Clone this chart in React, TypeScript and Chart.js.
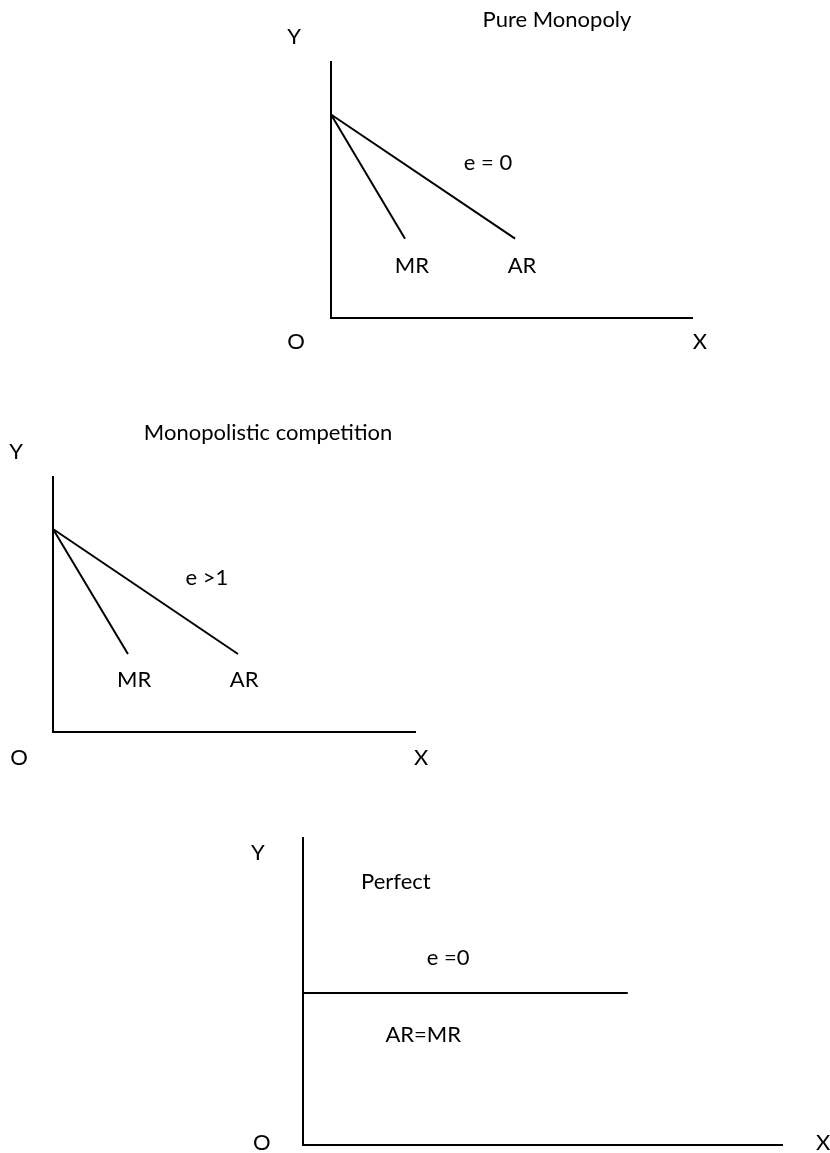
import React, { useEffect, useRef } from 'react';
import { Chart, registerables } from 'chart.js';

Chart.register(...registerables);

// ---------- Pure Monopoly ----------
const pureMR = [
  { x: 0, y: 79.5 },
  { x: 20.5, y: 31 },
];
const pureAR = [
  { x: 0, y: 79.5 },
  { x: 51, y: 31 },
];
const pureLabels = [
  { text: 'Pure Monopoly', x: 62.6, y: 116.4 },
  { text: 'Y', x: -10.2, y: 109.8 },
  { text: 'O', x: -9.7, y: -9.2 },
  { text: 'X', x: 102.2, y: -9.4 },
  { text: 'e = 0', x: 43.5, y: 60.5 },
  { text: 'MR', x: 22.4, y: 20.3 },
  { text: 'AR', x: 52.9, y: 20.3 },
];

// ---------- Monopolistic competition ----------
const compMR = [
  { x: 0, y: 79.6 },
  { x: 20.7, y: 30.6 },
];
const compAR = [
  { x: 0, y: 79.6 },
  { x: 51.1, y: 30.6 },
];
const compLabels = [
  { text: 'Monopolistic competition', x: 59.4, y: 117.3 },
  { text: 'Y', x: -10.2, y: 109.8 },
  { text: 'O', x: -9.4, y: -10.2 },
  { text: 'X', x: 101.7, y: -10.2 },
  { text: 'e >1', x: 42.5, y: 60.4 },
  { text: 'MR', x: 22.4, y: 20.4 },
  { text: 'AR', x: 52.8, y: 20.4 },
];

// ---------- Perfect competition ----------
const perfectARMR = [
  { x: 0, y: 49.5 },
  { x: 67.8, y: 49.5 },
];
const perfectLabels = [
  { text: 'Y', x: -9.4, y: 95.1 },
  { text: 'Perfect', x: 19.4, y: 85.7 },
  { text: 'e =0', x: 30.3, y: 60.9 },
  { text: 'AR=MR', x: 25.1, y: 35.8 },
  { text: 'O', x: -8.6, y: 0.65 },
  { text: 'X', x: 108.6, y: 0.65 },
];

type Pt = { x: number; y: number };
type Lbl = { text: string; x: number; y: number };

const FONT = '22px Lato';

function makeLabelPlugin(items: Lbl[]) {
  return {
    id: 'textLabels',
    afterDatasetsDraw(chart: any) {
      const { ctx, scales } = chart;
      const xs = scales.x;
      const ys = scales.y;
      ctx.save();
      ctx.font = FONT;
      ctx.fillStyle = '#000';
      ctx.textAlign = 'center';
      ctx.textBaseline = 'middle';
      items.forEach((it) => {
        ctx.fillText(it.text, xs.getPixelForValue(it.x), ys.getPixelForValue(it.y));
      });
      ctx.restore();
    },
  };
}

function axisOpts() {
  return {
    type: 'linear' as const,
    min: 0,
    max: 100,
    grid: { display: false, drawTicks: false },
    ticks: { display: false },
    border: { display: true, color: '#000', width: 2 },
  };
}

function lineDs(data: Pt[]) {
  return {
    data,
    showLine: true,
    borderColor: '#000',
    borderWidth: 2,
    pointRadius: 0,
    pointHoverRadius: 0,
    fill: false,
    clip: false as any,
  };
}

type PanelProps = {
  top: number;
  height: number;
  padding: { left: number; top: number; right: number; bottom: number };
  series: Pt[][];
  labels: Lbl[];
};

function Panel({ top, height, padding, series, labels }: PanelProps) {
  const ref = useRef<HTMLCanvasElement | null>(null);
  useEffect(() => {
    if (!ref.current) return;
    const chart = new Chart(ref.current, {
      type: 'scatter',
      data: { datasets: series.map((s) => lineDs(s)) as any },
      options: {
        responsive: false,
        animation: false,
        devicePixelRatio: 1,
        layout: { padding },
        plugins: {
          legend: { display: false },
          tooltip: { enabled: false },
          title: { display: false },
        },
        scales: { x: axisOpts(), y: axisOpts() },
        events: [],
      },
      plugins: [makeLabelPlugin(labels)],
    } as any);
    return () => chart.destroy();
  }, []);
  return (
    <canvas
      ref={ref}
      width={830}
      height={height}
      style={{ position: 'absolute', left: 0, top, width: 830, height }}
    />
  );
}

export default function App() {
  return (
    <div style={{ position: 'absolute', left: 0, top: 0, width: 830, height: 1153, background: '#fff', overflow: 'hidden' }}>
      <Panel
        top={0}
        height={375}
        padding={{ left: 331, top: 62, right: 138, bottom: 57 }}
        series={[pureMR, pureAR]}
        labels={pureLabels}
      />
      <Panel
        top={375}
        height={415}
        padding={{ left: 53, top: 102, right: 415, bottom: 58 }}
        series={[compMR, compAR]}
        labels={compLabels}
      />
      <Panel
        top={790}
        height={363}
        padding={{ left: 303, top: 48, right: 48, bottom: 8 }}
        series={[perfectARMR]}
        labels={perfectLabels}
      />
    </div>
  );
}
